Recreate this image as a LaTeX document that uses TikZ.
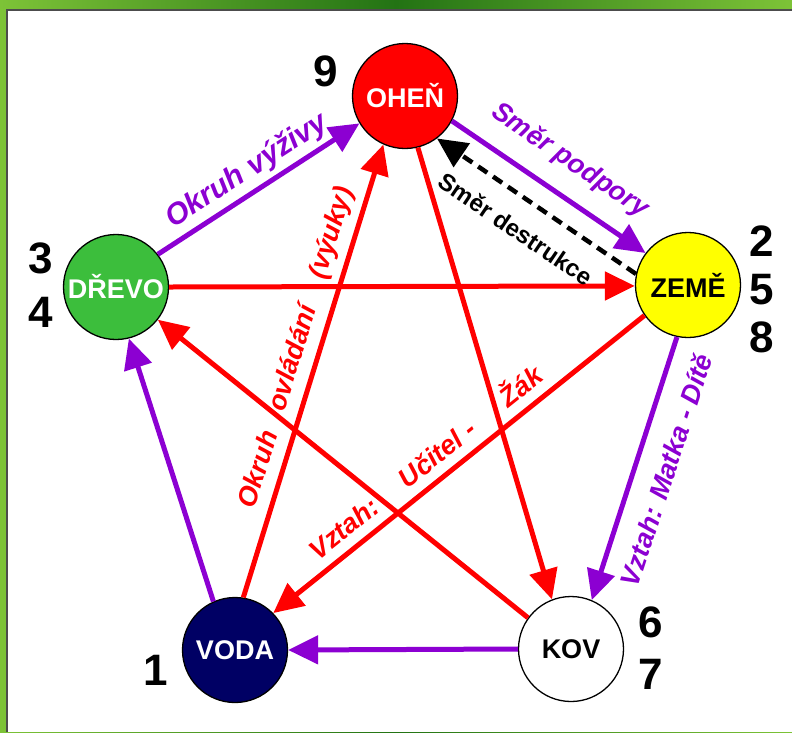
\documentclass[tikz,border=0pt]{standalone}
\usepackage{fontspec}
\setmainfont{Liberation Sans}
\usetikzlibrary{arrows.meta}
\definecolor{myred}{RGB}{255,0,0}
\definecolor{mypurple}{RGB}{140,0,210}
\definecolor{mygreen}{RGB}{60,190,60}
\definecolor{mynavy}{RGB}{0,0,100}
\definecolor{myyellow}{RGB}{255,255,0}
\definecolor{bgA}{RGB}{125,195,55}
\definecolor{bgB}{RGB}{35,115,20}
\begin{document}
\begin{tikzpicture}[x=1pt,y=-1pt,
  elem/.style={circle, draw=black, line width=1.3pt, minimum size=105pt, inner sep=0pt, font=\fontsize{27}{30}\selectfont\bfseries},
  num/.style={font=\fontsize{44}{54}\selectfont\bfseries, align=center, inner sep=0pt},
  arrtip/.style={-{Triangle[length=30pt,width=28pt]}},
  redarrow/.style={arrtip, draw=myred, line width=5pt},
  purplearrow/.style={arrtip, draw=mypurple, line width=5pt},
  destarrow/.style={arrtip, draw=black, line width=4.5pt, dash pattern=on 11pt off 7pt},
  lbl/.style={font=\fontsize{27}{30}\selectfont\bfseries\itshape, inner sep=0pt},
]
\useasboundingbox (0,0) rectangle (792,732);
\shade[left color=bgA, right color=bgA, middle color=bgB] (0,0) rectangle (792,732);
\fill[white] (7,10) rectangle (792,732);
\draw[black!70, line width=2pt] (7,732) -- (7,10) -- (792,10);

\node[elem, fill=myred, text=white] (ohen) at (405,96) {OHEŇ};
\node[elem, fill=mygreen, text=white] (drevo) at (116,287) {DŘEVO};
\node[elem, fill=myyellow, text=black] (zeme) at (688,285) {ZEMĚ};
\node[elem, fill=mynavy, text=white] (voda) at (235,650) {VODA};
\node[elem, fill=white, text=black] (kov) at (571,649) {KOV};

\node[num] (n9) at (326,71) {9};
\node[num] (n34) at (41,285) {3\\4};
\node[num, font=\fontsize{44}{48}\selectfont\bfseries] (n258) at (762,289) {2\\5\\8};
\node[num, font=\fontsize{44}{52}\selectfont\bfseries] (n67) at (651,648) {6\\7};
\node[num] (n1) at (156,670) {1};

\draw[purplearrow] (drevo.38) -- (ohen.211);
\draw[purplearrow] (ohen.-28) -- (zeme.143);
\draw[destarrow] (zeme.168) -- (ohen.-53);
\draw[redarrow] (drevo.0) -- (zeme.181);
\draw[redarrow] (ohen.-76) -- (kov.111);
\draw[redarrow] (voda.81) -- (ohen.246);
\draw[redarrow] (zeme.215) -- (voda.44);
\draw[redarrow] (kov.144) -- (drevo.-38);
\draw[purplearrow] (kov.180) -- (voda.0);
\draw[purplearrow] (zeme.258) -- (kov.67);
\draw[purplearrow] (voda.114) -- (drevo.-76);

\node[lbl, text=mypurple, rotate=33, font=\fontsize{30}{34}\selectfont\bfseries\itshape] (lv) at (247,171) {Okruh výživy};
\node[lbl, text=mypurple, rotate=-34] (lp) at (570,161) {Směr podpory};
\node[font=\fontsize{24}{28}\selectfont\bfseries, rotate=-34, inner sep=0pt] (ld) at (516,229) {Směr destrukce};
\node[lbl, text=myred, rotate=72.9] (lo) at (297,348) {Okruh\hspace{22pt}ovládání\hspace{29pt}(výuky)};
\node[lbl, text=myred, rotate=38.7] (lu) at (424,461) {Vztah:\hspace{34pt}Učitel -\hspace{39pt}Žák};
\node[lbl, text=mypurple, rotate=72] (lm) at (666,470) {Vztah: Matka - Dítě};
\end{tikzpicture}
\end{document}
